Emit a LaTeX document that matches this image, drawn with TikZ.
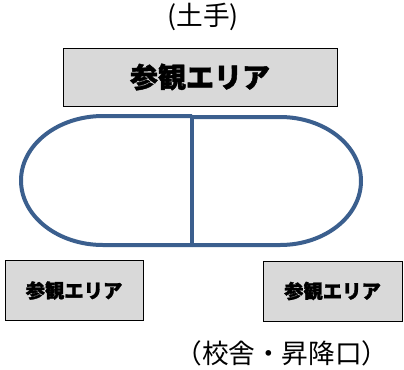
\documentclass[tikz,border=0pt]{standalone}
\usepackage{fontspec}
\usepackage{tikz}
\newfontfamily\jpfont{Noto Sans CJK JP}
\newfontfamily\jpblack[FakeBold=1.5]{Noto Sans CJK JP Black}
\definecolor{trackblue}{HTML}{3B5F8E}
\definecolor{areagray}{HTML}{D9D9D9}

\begin{document}
\begin{tikzpicture}[x=0.75pt, y=-0.75pt,
    area/.style={draw=black, line width=0.75pt, fill=areagray, inner sep=0pt},
    track/.style={draw=trackblue, line width=3pt, line join=round}]
      \useasboundingbox (0,0) rectangle (404,369);

      % (土手)
      \node[font=\jpfont\fontsize{20pt}{20pt}\selectfont] (bank) at (203,17) {(土手)};
      \node[area, minimum width=205.5pt, minimum height=43.5pt,
            font=\jpblack\fontsize{21pt}{21pt}\selectfont] (topArea) at (200,77) {参観エリア};

      % track
      \draw[track] (192,116) -- (103,116) arc[start angle=-90, end angle=-270, x radius=82, y radius=64.5] -- (192,245);
      \draw[track] (192,117) -- (280,117) arc[start angle=-90, end angle=90, x radius=81, y radius=64] -- (192,245);
      \draw[track] (192,116) -- (192,245);

      \node[area, minimum width=103.5pt, minimum height=45.5pt,
            font=\jpblack\fontsize{14.5pt}{14.5pt}\selectfont] (leftArea) at (74,290.5) {参観エリア};
      \node[area, minimum width=104.25pt, minimum height=45pt,
            font=\jpblack\fontsize{14.5pt}{14.5pt}\selectfont] (rightArea) at (332.5,291) {参観エリア};

      % (校舎・昇降口)
      \node[font=\jpfont\fontsize{20pt}{20pt}\selectfont] (school) at (282,353) {（校舎・昇降口）};
\end{tikzpicture}
\end{document}
